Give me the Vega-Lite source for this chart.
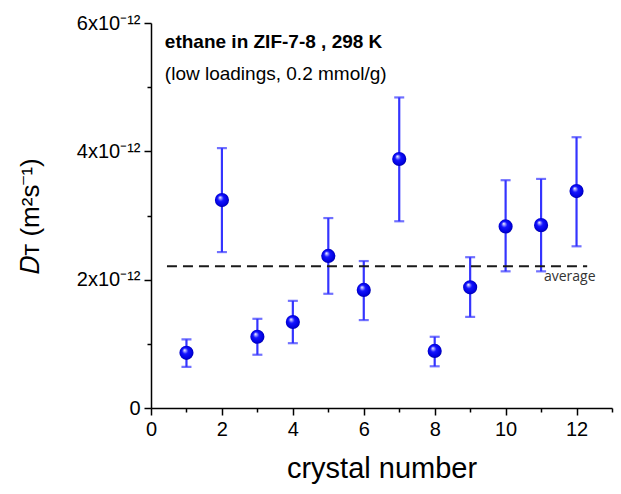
{
  "$schema": "https://vega.github.io/schema/vega-lite/v6.json",
  "width": 461,
  "height": 385,
  "autosize": "none",
  "padding": {"left": 151, "top": 23, "right": 9, "bottom": 86},
  "background": "white",
  "config": {"view": {"stroke": null}, "font": "Liberation Sans"},
  "datasets": {
    "pts": [
      {"crystal": 1, "D": 0.86e-12, "lo": 0.64e-12, "hi": 1.07e-12},
      {"crystal": 2, "D": 3.24e-12, "lo": 2.43e-12, "hi": 4.05e-12},
      {"crystal": 3, "D": 1.11e-12, "lo": 0.83e-12, "hi": 1.39e-12},
      {"crystal": 4, "D": 1.34e-12, "lo": 1.01e-12, "hi": 1.67e-12},
      {"crystal": 5, "D": 2.37e-12, "lo": 1.78e-12, "hi": 2.96e-12},
      {"crystal": 6, "D": 1.84e-12, "lo": 1.37e-12, "hi": 2.29e-12},
      {"crystal": 7, "D": 3.88e-12, "lo": 2.91e-12, "hi": 4.84e-12},
      {"crystal": 8, "D": 0.89e-12, "lo": 0.65e-12, "hi": 1.11e-12},
      {"crystal": 9, "D": 1.88e-12, "lo": 1.42e-12, "hi": 2.35e-12},
      {"crystal": 10, "D": 2.83e-12, "lo": 2.13e-12, "hi": 3.55e-12},
      {"crystal": 11, "D": 2.85e-12, "lo": 2.13e-12, "hi": 3.57e-12},
      {"crystal": 12, "D": 3.38e-12, "lo": 2.52e-12, "hi": 4.22e-12}
    ],
    "avg": [{"x1": 0.45, "x2": 12.3, "y": 2.21e-12, "lx": 11.08, "ly": 2.04e-12, "label": "average"}],
    "note1": [{"x": 0.39, "y": 5.70e-12, "text": "ethane in ZIF-7-8 , 298 K"}],
    "note2": [{"x": 0.39, "y": 5.21e-12, "text": "(low loadings, 0.2 mmol/g)"}]
  },
  "encoding": {
    "x": {
      "type": "quantitative",
      "scale": {"domain": [0, 13], "nice": false, "zero": false},
      "axis": {
        "title": "crystal number",
        "values": [0, 1, 2, 3, 4, 5, 6, 7, 8, 9, 10, 11, 12, 13],
        "labelExpr": "datum.value % 2 == 0 && datum.value <= 12 ? datum.label : ''",
        "grid": false,
        "domainColor": "#000000", "domainWidth": 1.5,
        "tickColor": "#000000", "tickWidth": 1.5,
        "tickSize": {"condition": {"test": "datum.value % 2 == 0", "value": 7}, "value": 4},
        "labelFontSize": 20, "labelColor": "#000000", "labelPadding": 4,
        "labelFlush": false,
        "titleFontSize": 29, "titleFontWeight": "normal", "titleColor": "#000000",
        "titlePadding": 15
      }
    },
    "y": {
      "type": "quantitative",
      "scale": {"domain": [0, 6e-12], "nice": false, "zero": true},
      "axis": {
        "title": "𝐷ᴛ (m²s⁻¹)",
        "values": [0, 1e-12, 2e-12, 3e-12, 4e-12, 5e-12, 6e-12],
        "labelExpr": "round(datum.value*1e12) == 0 ? '0' : (round(datum.value*1e12) % 2 == 0 ? round(datum.value*1e12) + 'x10⁻¹²' : '')",
        "grid": false,
        "domainColor": "#000000", "domainWidth": 1.5,
        "tickColor": "#000000", "tickWidth": 1.5,
        "tickSize": {"condition": {"test": "round(datum.value*1e12) % 2 == 0", "value": 7}, "value": 4},
        "labelFontSize": 20, "labelColor": "#000000", "labelPadding": 4,
        "labelFlush": false,
        "titleFontSize": 26, "titleFontWeight": "normal", "titleColor": "#000000",
        "titlePadding": 33
      }
    }
  },
  "layer": [
    {
      "data": {"name": "pts"},
      "mark": {"type": "rule", "color": "#3434ff", "strokeWidth": 2.2},
      "encoding": {
        "x": {"field": "crystal"},
        "y": {"field": "lo"},
        "y2": {"field": "hi"}
      }
    },
    {
      "data": {"name": "pts"},
      "mark": {"type": "tick", "orient": "horizontal", "color": "#3434ff", "size": 10, "thickness": 2.2},
      "encoding": {
        "x": {"field": "crystal"},
        "y": {"field": "hi"}
      }
    },
    {
      "data": {"name": "pts"},
      "mark": {"type": "tick", "orient": "horizontal", "color": "#3434ff", "size": 10, "thickness": 2.2},
      "encoding": {
        "x": {"field": "crystal"},
        "y": {"field": "lo"}
      }
    },
    {
      "data": {"name": "avg"},
      "mark": {"type": "rule", "color": "#1a1a1a", "strokeWidth": 2, "strokeDash": [10, 6]},
      "encoding": {
        "x": {"field": "x1"},
        "x2": {"field": "x2"},
        "y": {"field": "y"}
      }
    },
    {
      "data": {"name": "avg"},
      "mark": {"type": "text", "align": "left", "baseline": "middle", "font": "Open Sans", "fontSize": 14, "color": "#333333"},
      "encoding": {
        "x": {"field": "lx"},
        "y": {"field": "ly"},
        "text": {"field": "label"}
      }
    },
    {
      "data": {"name": "pts"},
      "mark": {
        "type": "point", "shape": "circle", "filled": true, "size": 200, "opacity": 1,
        "fill": {
          "gradient": "radial", "x1": 0.36, "y1": 0.3, "r1": 0, "x2": 0.5, "y2": 0.5, "r2": 0.55,
          "stops": [
            {"offset": 0, "color": "#ffffff"},
            {"offset": 0.14, "color": "#a8a8ff"},
            {"offset": 0.38, "color": "#1414ff"},
            {"offset": 0.8, "color": "#0000dd"},
            {"offset": 1, "color": "#00008a"}
          ]
        },
        "strokeWidth": 0
      },
      "encoding": {
        "x": {"field": "crystal"},
        "y": {"field": "D"}
      }
    },
    {
      "data": {"name": "note1"},
      "mark": {"type": "text", "align": "left", "baseline": "middle", "fontSize": 19, "fontWeight": "bold", "color": "#000000"},
      "encoding": {
        "x": {"field": "x"},
        "y": {"field": "y"},
        "text": {"field": "text"}
      }
    },
    {
      "data": {"name": "note2"},
      "mark": {"type": "text", "align": "left", "baseline": "middle", "fontSize": 19, "color": "#000000"},
      "encoding": {
        "x": {"field": "x"},
        "y": {"field": "y"},
        "text": {"field": "text"}
      }
    }
  ]
}
